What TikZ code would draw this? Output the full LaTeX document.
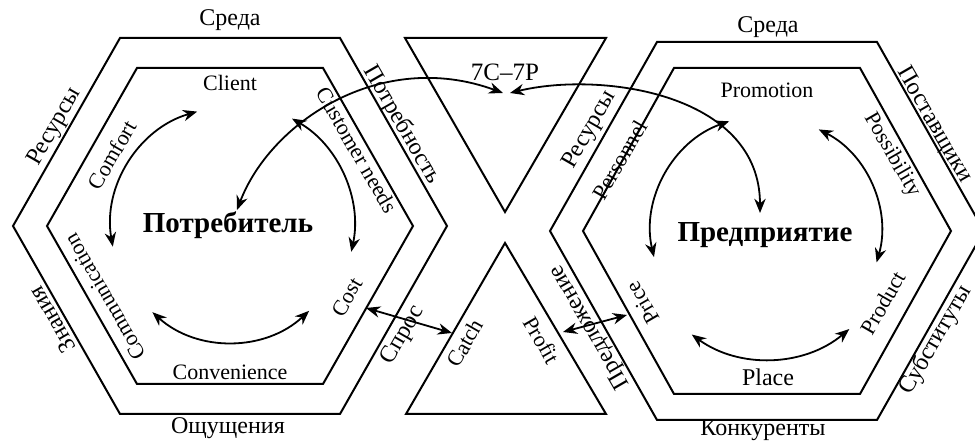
\documentclass[tikz,border=0pt]{standalone}
\usepackage{fontspec}
\setmainfont{Liberation Serif}
\usetikzlibrary{arrows.meta}
\tikzset{
  frame/.style={line width=1pt, line join=miter},
  link/.style={{Stealth[length=2.5mm,width=2mm]}-{Stealth[length=2.5mm,width=2mm]}, line width=0.9pt},
  side/.style={font=\fontsize{12}{14}\selectfont, inner sep=1pt},
  item/.style={font=\fontsize{11}{13}\selectfont, inner sep=1pt},
  hub/.style={font=\bfseries\fontsize{14.5}{17}\selectfont, inner sep=1pt}
}

\begin{document}
\begin{tikzpicture}[x=0.5pt, y=0.5pt]
\useasboundingbox (0,0) rectangle (975,443);
\clip (0,0) rectangle (975,443);
% hexagons and the X
\draw[frame] (13,217) -- (120,405) -- (340,405) -- (447,217) -- (340,29) -- (120,29) -- cycle;
\draw[frame] (47,217) -- (137,375) -- (323,375) -- (413,217) -- (323,59) -- (137,59) -- cycle;
\draw[frame] (550,212) -- (657,401) -- (877,401) -- (984,212) -- (877,23) -- (657,23) -- cycle;
\draw[frame] (583,212) -- (674,375) -- (860,375) -- (951,212) -- (860,49) -- (674,49) -- cycle;
\draw[frame] (405,405) -- (606,405) -- (505,231) -- cycle;
\draw[frame] (406,29) -- (606,29) -- (505,200) -- cycle;
% left side
\node[side] (envl) at (230,423) {Среда};
\node[side, rotate=60] (resl) at (55,316) {Ресурсы};
\node[side, rotate=120] (know) at (52,123) {Знания};
\node[side] (sense) at (228,15) {Ощущения};
\node[side, rotate=-60] (need) at (402,318) {Потребность};
\node[side, rotate=60] (demand) at (403,108) {Спрос};
\node[item] (client) at (230,360) {Client};
\node[item, rotate=60] (comfort) at (112,288) {Comfort};
\node[item, rotate=-60] (needs) at (357,293) {Customer needs};
\node[item, rotate=120] (comm) at (105,146) {Communication};
\node[item] (conv) at (230,71) {Convenience};
\node[item, rotate=60] (cost) at (347,146) {Cost};
\node[hub] (consumer) at (228,218) {Потребитель};
% middle
\node[side, font=\fontsize{12.5}{15}\selectfont] (mix) at (505,371) {7C--7P};
\node[item, rotate=60] (catch) at (465,100) {Catch};
\node[item, rotate=-60] (profit) at (542,103) {Profit};
% right side
\node[side] (envr) at (768,416) {Среда};
\node[side, rotate=60] (resr) at (590,313) {Ресурсы};
\node[side, rotate=-60] (supply) at (934,318) {Поставщики};
\node[side, rotate=120] (offer) at (590,116) {Предложение};
\node[side, rotate=60] (subst) at (936,103) {Субституты};
\node[side] (rivals) at (763,13) {Конкуренты};
\node[item] (promo) at (767,353) {Promotion};
\node[item, rotate=60] (staff) at (620,283) {Personnel};
\node[item, rotate=-60] (poss) at (892,288) {Possibility};
\node[item, rotate=120] (price) at (643,140) {Price};
\node[item, rotate=60] (product) at (883,140) {Product};
\node[side] (place) at (768,66) {Place};
\node[hub] (firm) at (765,208) {Предприятие};
% cycles
\coordinate (lc) at (230,217);
\coordinate (rc) at (767,212);
\draw[link] ([shift={(190:119)}]lc) arc[start angle=190, end angle=106, radius=119];
\draw[link] ([shift={(60:124)}]lc) arc[start angle=60, end angle=-12, radius=124];
\draw[link] ([shift={(228:116)}]lc) arc[start angle=228, end angle=313, radius=116];
\draw[link] ([shift={(193:116)}]rc) arc[start angle=193, end angle=109, radius=116];
\draw[link] ([shift={(63:114)}]rc) arc[start angle=63, end angle=-16, radius=114];
\draw[link] ([shift={(234:128)}]rc) arc[start angle=234, end angle=310, radius=128];
% links through the X
\coordinate (consumertop) at (237,233);
\coordinate (firmtop) at (760,230);
\coordinate (mixl) at (503,350);
\coordinate (mixr) at (510,350);
\coordinate (costend) at (366,135);
\coordinate (catchend) at (452,110);
\coordinate (profitend) at (563,111);
\coordinate (priceend) at (627,128);
\draw[link] (consumertop) .. controls (270,320) and (380,395) .. (mixl);
\draw[link] (mixr) .. controls (600,372) and (760,350) .. (firmtop);
\draw[link] (costend) -- (catchend);
\draw[link] (profitend) -- (priceend);
\end{tikzpicture}
\end{document}
